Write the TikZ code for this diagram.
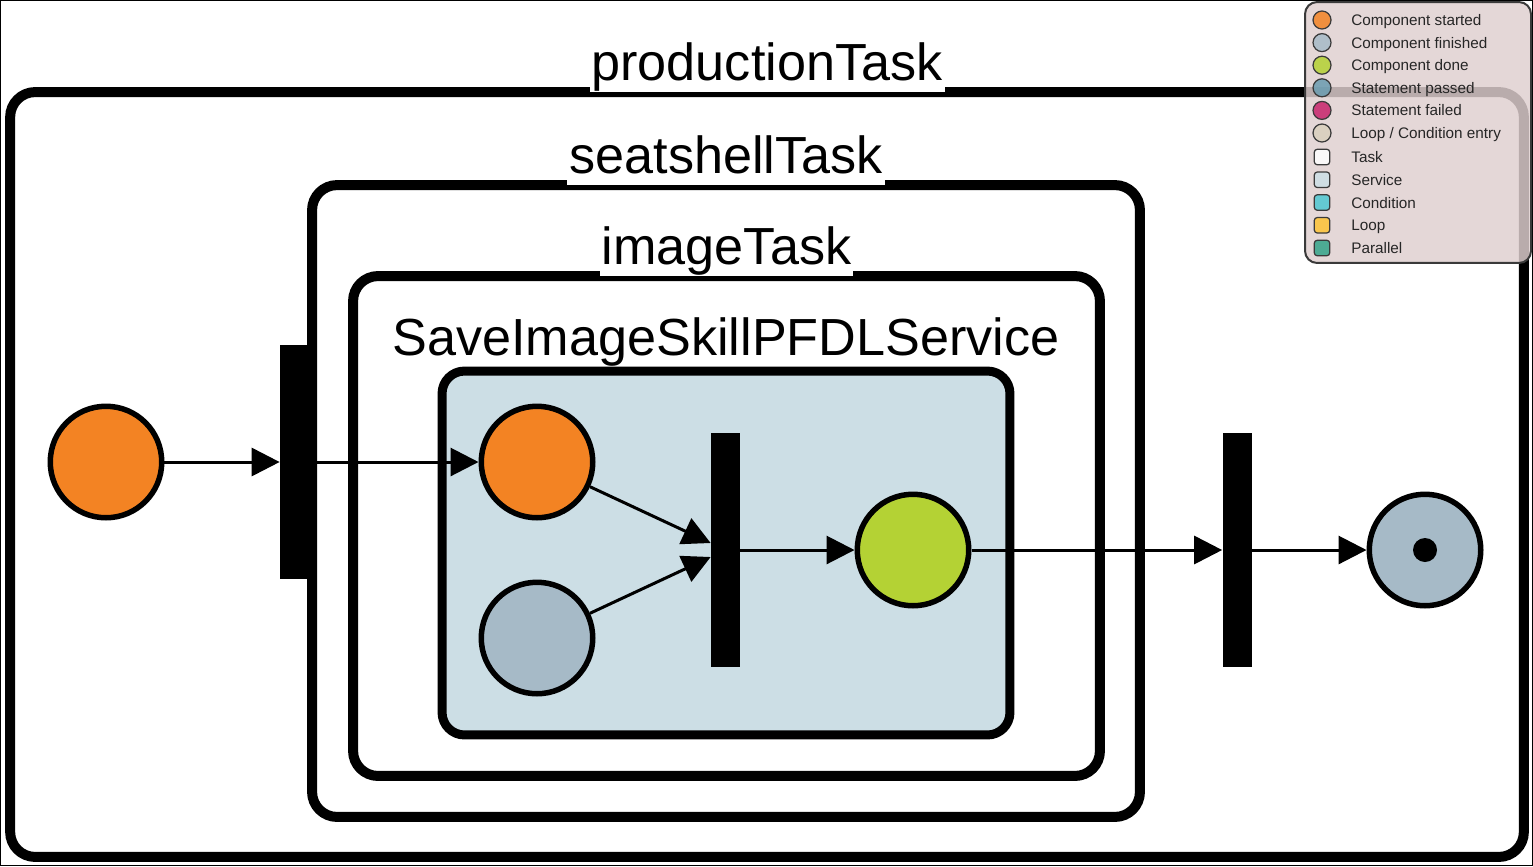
\documentclass[tikz,border=0pt]{standalone}
\usepackage{fontspec}
\setmainfont{Liberation Sans}
\usepackage{tikz}
\usetikzlibrary{arrows.meta,calc}
\usepackage{xcolor}
\definecolor{compstarted}{HTML}{F38323}
\definecolor{compfinished}{HTML}{A6BAC7}
\definecolor{compdone}{HTML}{B4D234}
\definecolor{stmtpassed}{HTML}{6A9CB0}
\definecolor{stmtfailed}{HTML}{C8246C}
\definecolor{loopentry}{HTML}{D9CFBC}
\definecolor{servicefill}{HTML}{CCDEE5}
\definecolor{condfill}{HTML}{4EC7D2}
\definecolor{loopfill}{HTML}{FDC436}
\definecolor{parallelfill}{HTML}{34A489}
\definecolor{legendfill}{HTML}{DFCFCF}
\definecolor{legendline}{HTML}{3A3A3A}

\begin{document}
\begin{tikzpicture}[x=0.02cm, y=-0.02cm,
    taskbox/.style={draw=black, line width=0.2cm, rounded corners=0.5cm, inner sep=0pt, outer sep=0pt},
    servicebox/.style={draw=black, fill=servicefill, line width=0.18cm, rounded corners=0.45cm, inner sep=0pt, outer sep=0pt},
    tasktitle/.style={fill=white, inner sep=0pt, inner xsep=0.04cm, text depth=0.24cm, anchor=base,
      font=\fontsize{29.7}{35}\selectfont},
    state/.style={circle, draw=black, line width=0.11cm, minimum size=2.23cm, inner sep=0pt},
    syncbar/.style={rectangle, fill=black, inner sep=0pt, minimum width=0.58cm, minimum height=4.68cm},
    flow/.style={-{Triangle[length=0.56cm, width=0.56cm]}, line width=0.06cm},
    legdot/.style={circle, draw=legendline, line width=0.025cm, fill opacity=0.85, minimum size=0.36cm, inner sep=0pt},
    legsquare/.style={rectangle, rounded corners=0.06cm, draw=legendline, line width=0.025cm, fill opacity=0.85,
      minimum size=0.31cm, inner sep=0pt},
    legtext/.style={anchor=base west, inner sep=0pt, text=black!85, font=\fontsize{8.7}{10}\selectfont}]
  % 1 unit = 1 px of the 1533 x 866 image, y pointing down
  \useasboundingbox (0,0) rectangle (1533,866);
  \draw[line width=0.02cm] (0.5,0.5) rectangle (1532.5,865.5);

  % nested tasks
  \node[taskbox, minimum width=30.28cm, minimum height=15.3cm] (production) at (767,474.5) {};
  \node[taskbox, minimum width=16.56cm, minimum height=12.64cm] (seatshell) at (726,501) {};
  \node[taskbox, minimum width=14.94cm, minimum height=10cm] (imagetask) at (726.5,526) {};
  \node[servicebox, minimum width=11.36cm, minimum height=7.28cm] (service) at (726,553) {};
  \node[tasktitle] (productionTitle) at ($(production.north)+(0,-12)$) {productionTask};
  \node[tasktitle] (seatshellTitle) at ($(seatshell.north)+(0,-12)$) {seatshellTask};
  \node[tasktitle] (imagetaskTitle) at ($(imagetask.north)+(0,-12)$) {imageTask};
  \node[tasktitle, fill=none] (serviceTitle) at ($(service.north)+(0,-16)$) {SaveImageSkillPFDLService};

  % states and bars
  \node[state, fill=compstarted] (start) at (106,462) {};
  \node[syncbar] (bar1) at (294.5,462) {};
  \node[state, fill=compstarted] (svcStart) at (537,462) {};
  \node[state, fill=compfinished] (svcFinished) at (537,638) {};
  \node[syncbar] (bar2) at (725.5,550) {};
  \node[state, fill=compdone] (svcDone) at (913,550) {};
  \node[syncbar] (bar3) at (1237,550) {};
  \node[state, fill=compfinished] (finish) at (1425,550) {};
  \node[circle, fill=black, minimum size=0.48cm, inner sep=0pt] (finishDot) at (finish) {};

  \draw[flow] (start) -- (bar1);
  \draw[flow] (bar1) -- (svcStart);
  \draw[flow] (svcStart) -- ($(bar2.west)+(0,-7)$);
  \draw[flow] (svcFinished) -- ($(bar2.west)+(0,7)$);
  \draw[flow] (bar2) -- (svcDone);
  \draw[flow] (svcDone) -- (bar3);
  \draw[flow] (bar3) -- (finish);

  % legend
  \node[rectangle, rounded corners=0.24cm, draw=legendline, line width=0.04cm, fill=legendfill, fill opacity=0.83,
    minimum width=4.52cm, minimum height=5.22cm, inner sep=0pt] (legend) at (1418,132.5) {};
  \foreach \col/\txt [count=\i] in {compstarted/Component started, compfinished/Component finished,
      compdone/Component done, stmtpassed/Statement passed, stmtfailed/Statement failed,
      loopentry/{Loop / Condition entry}} {
    \node[legdot, fill=\col] (legdot\i) at (1322,{20+22.6*(\i-1)}) {};
    \node[legtext] (legtext\i) at (1351,{25.5+22.6*(\i-1)}) {\txt};
  }
  \foreach \col/\txt [count=\i] in {white/Task, servicefill/Service, condfill/Condition,
      loopfill/Loop, parallelfill/Parallel} {
    \node[legsquare, fill=\col] (legsq\i) at (1322,{157+22.75*(\i-1)}) {};
    \node[legtext] (legsqtext\i) at (1351,{162.5+22.75*(\i-1)}) {\txt};
  }
\end{tikzpicture}
\end{document}
